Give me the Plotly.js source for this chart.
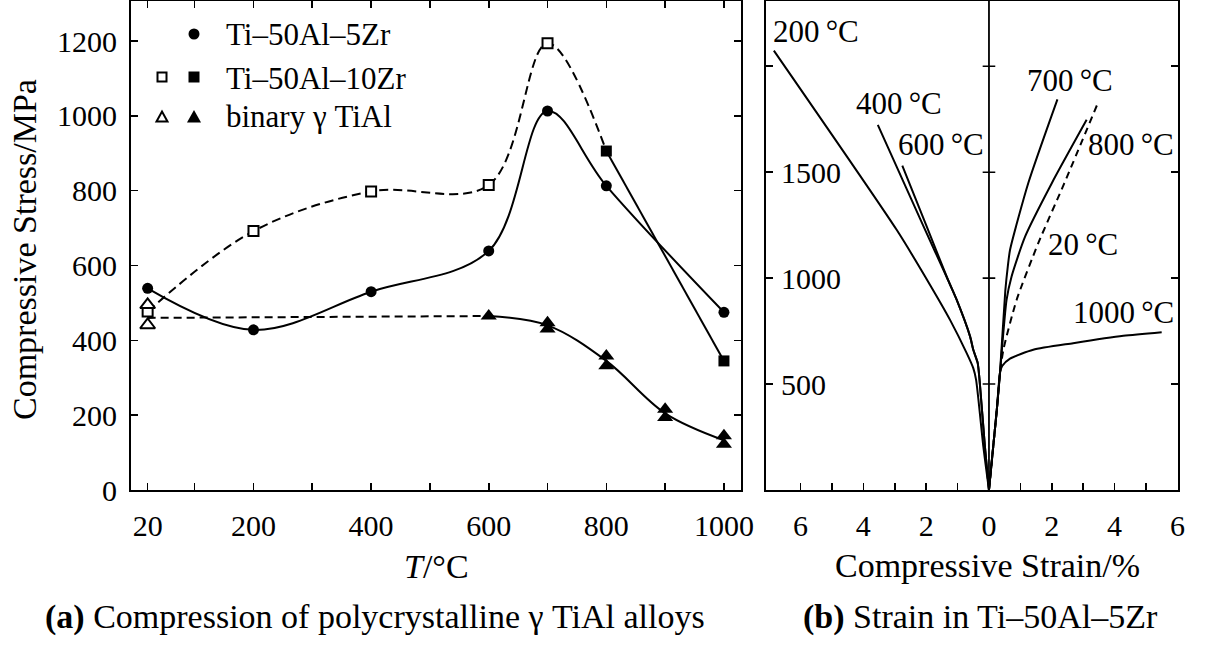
<!DOCTYPE html>
<html>
<head>
<meta charset="utf-8">
<script src="https://cdn.plot.ly/plotly-3.0.1.min.js"></script>
<style>
  html, body { margin: 0; padding: 0; background: #fff; }
  #chart { width: 1205px; height: 646px; }
</style>
</head>
<body>
<div id="chart"></div>
<script>
// ---------- (a) compressive strength vs. temperature ----------
const zr5T = [20, 200, 400, 600, 700, 800, 1000];
const zr5Stress = [539, 428, 530, 639, 1013, 813, 475];

const zr10OpenT = [20, 200, 400, 600, 700];
const zr10OpenStress = [477, 692, 798, 815, 1194];
const zr10FilledT = [800, 1000];
const zr10FilledStress = [906, 345];

const binaryOpenT = [20, 20];
const binaryOpenStress = [495, 441];
const binaryLowTrendT = [20, 600];
const binaryLowTrendStress = [460, 465];
const binaryFilledT = [600, 700, 700, 800, 800, 900, 900, 1000, 1000];
const binaryFilledStress = [465, 447, 430, 358, 332, 216, 194, 145, 122];
const binaryHighTrendT = [600, 700, 800, 900, 1000];
const binaryHighTrendStress = [465, 440, 345, 205, 133];

const tempTicks = [20, 100, 200, 300, 400, 500, 600, 700, 800, 900, 1000];
const tempTickText = ['20', '', '200', '', '400', '', '600', '', '800', '', '1000'];
const stressTicks = [0, 200, 400, 600, 800, 1000, 1200];

// ---------- (b) stress-strain curves of Ti-50Al-5Zr ----------
// left half: strain plotted as negative values, labelled by magnitude
const c200Strain = [0, -0.18, -0.41, -0.5, -0.71, -1.24, -1.88, -2.94, -6.85];
const c200Stress = [0, 206, 520, 575, 646, 803, 969, 1228, 2074];
const c400Strain = [0, -0.13, -0.3, -0.36, -0.5, -0.6, -1.03, -1.3, -2.08, -3.54];
const c400Stress = [0, 206, 520, 600, 662, 724, 898, 990, 1243, 1723];
const c600Strain = [0, -0.13, -0.3, -0.36, -0.5, -0.6, -1.03, -1.3, -2.0, -2.76];
const c600Stress = [0, 206, 520, 600, 662, 724, 898, 990, 1250, 1531];
// right half
const c700Strain = [0, 0.25, 0.35, 0.52, 0.6, 0.67, 1.25, 2.18];
const c700Stress = [0, 379, 552, 940, 1055, 1133, 1448, 1844];
const c800Strain = [0, 0.25, 0.35, 0.56, 0.72, 1.15, 2.0, 3.11];
const c800Stress = [0, 379, 552, 897, 1008, 1196, 1448, 1747];
const c20Strain = [0, 0.25, 0.35, 0.46, 0.88, 1.57, 2.4, 3.45];
const c20Stress = [0, 379, 552, 663, 897, 1165, 1448, 1820];
const c1000Strain = [0, 0.25, 0.35, 0.42, 0.67, 1.41, 2.68, 4.28, 5.5];
const c1000Stress = [0, 379, 552, 585, 620, 662, 693, 728, 745];

const strainTicks = [-6, -5, -4, -3, -2, -1, 0, 1, 2, 3, 4, 5, 6];
const strainTickText = ['6', '', '4', '', '2', '', '0', '', '2', '', '4', '', '6'];
const strainStressTicks = [500, 1000, 1500, 2000];
const strainStressTickText = ['500', '1000', '1500', ''];

const curveLabels = [
  { text: '200\u2009°C', strain: -5.51, stress: 2162 },
  { text: '400\u2009°C', strain: -2.87, stress: 1822 },
  { text: '600\u2009°C', strain: -1.53, stress: 1629 },
  { text: '700\u2009°C', strain: 2.58, stress: 1935 },
  { text: '800\u2009°C', strain: 4.52, stress: 1629 },
  { text: '20\u2009°C', strain: 3.0, stress: 1157 },
  { text: '1000\u2009°C', strain: 4.27, stress: 836 }
];

const legendLabels = ['Ti–50Al–5Zr', 'Ti–50Al–10Zr', 'binary γ TiAl'];

const FONT = 'Liberation Serif, Times New Roman, serif';
const BLACK = '#000';

function curve(x, y, dash, xa, ya) {
  return {
    x: x, y: y, xaxis: xa, yaxis: ya, mode: 'lines', hoverinfo: 'skip',
    line: { color: BLACK, width: 2, dash: dash || 'solid', shape: 'spline', smoothing: 0.6 }
  };
}

const traces = [
  // Ti-50Al-5Zr
  {
    x: zr5T, y: zr5Stress, mode: 'lines+markers', xaxis: 'x', yaxis: 'y',
    line: { color: BLACK, width: 2, shape: 'spline', smoothing: 1 },
    marker: { symbol: 'circle', size: 11, color: BLACK }
  },
  // Ti-50Al-10Zr: dashed through the open squares up to the first filled one
  {
    x: zr10OpenT.concat([zr10FilledT[0]]), y: zr10OpenStress.concat([zr10FilledStress[0]]),
    mode: 'lines', xaxis: 'x', yaxis: 'y',
    line: { color: BLACK, width: 2, dash: '9px,5px', shape: 'spline', smoothing: 1 }
  },
  {
    x: zr10FilledT, y: zr10FilledStress, mode: 'lines+markers', xaxis: 'x', yaxis: 'y',
    line: { color: BLACK, width: 2 },
    marker: { symbol: 'square', size: 11, color: BLACK }
  },
  {
    x: zr10OpenT, y: zr10OpenStress, mode: 'markers', xaxis: 'x', yaxis: 'y',
    marker: { symbol: 'square', size: 10, color: '#fff', line: { color: BLACK, width: 2 } }
  },
  // binary gamma TiAl
  curve(binaryLowTrendT, binaryLowTrendStress, '8px,5px', 'x', 'y'),
  {
    x: binaryHighTrendT, y: binaryHighTrendStress, mode: 'lines', xaxis: 'x', yaxis: 'y',
    line: { color: BLACK, width: 2, shape: 'spline', smoothing: 1 }
  },
  {
    x: binaryOpenT, y: binaryOpenStress, mode: 'markers', xaxis: 'x', yaxis: 'y',
    marker: { symbol: 'triangle-up', size: 13, color: '#fff', line: { color: BLACK, width: 2 } }
  },
  {
    x: binaryFilledT, y: binaryFilledStress, mode: 'markers', xaxis: 'x', yaxis: 'y',
    marker: { symbol: 'triangle-up', size: 14, color: BLACK }
  },
  // stress-strain curves
  curve(c200Strain, c200Stress, null, 'x2', 'y2'),
  curve(c400Strain, c400Stress, null, 'x2', 'y2'),
  curve(c600Strain, c600Stress, null, 'x2', 'y2'),
  curve(c700Strain, c700Stress, null, 'x2', 'y2'),
  curve(c800Strain, c800Stress, null, 'x2', 'y2'),
  curve(c20Strain, c20Stress, '7px,5px', 'x2', 'y2'),
  curve(c1000Strain, c1000Stress, null, 'x2', 'y2'),
  // tick marks across the zero-strain line
  {
    x: strainStressTicks.map(() => 0), y: strainStressTicks, mode: 'markers',
    xaxis: 'x2', yaxis: 'y2', hoverinfo: 'skip',
    marker: { symbol: 'line-ew', size: 9, line: { color: BLACK, width: 1.6 } }
  }
];

const axisCommon = {
  showline: true, linecolor: BLACK, linewidth: 2, mirror: 'ticks',
  ticks: 'inside', ticklen: 7, tickwidth: 1.6, tickcolor: BLACK,
  showgrid: false, zeroline: false, fixedrange: true,
  tickfont: { family: FONT, size: 30, color: BLACK }
};

const px = v => v / 1205;
const py = v => 1 - v / 646;

const annotations = [
  { text: 'Compressive Stress/MPa', x: px(24), y: py(250), textangle: -90 },
  { text: '<i>T</i>/°C', x: px(436), y: py(566) },
  { text: 'Compressive Strain/%', x: px(987), y: py(565) },
  { text: '<b>(a)</b> Compression of polycrystalline γ TiAl alloys', x: px(375), y: py(617) },
  { text: '<b>(b)</b> Strain in Ti–50Al–5Zr', x: px(980), y: py(617) }
].map(a => Object.assign({
  xref: 'paper', yref: 'paper', showarrow: false, xanchor: 'center', yanchor: 'middle',
  font: { family: FONT, size: 34, color: BLACK }
}, a));

legendLabels.forEach((t, i) => {
  annotations.push({
    text: t, xref: 'paper', yref: 'paper', x: px(224), y: py([35, 78, 117][i]),
    xanchor: 'left', yanchor: 'middle', showarrow: false,
    font: { family: FONT, size: 31, color: BLACK }
  });
});

curveLabels.forEach(c => {
  annotations.push({
    text: c.text, xref: 'x2', yref: 'y2', x: c.strain, y: c.stress,
    xanchor: 'center', yanchor: 'middle', showarrow: false,
    font: { family: FONT, size: 31, color: BLACK }
  });
});

// stress labels of panel (b), written just inside its left frame
strainStressTicks.forEach((v, i) => {
  if (!strainStressTickText[i]) return;
  annotations.push({
    text: strainStressTickText[i], xref: 'x2 domain', yref: 'y2', x: 0, y: v,
    xshift: 13, xanchor: 'left', yanchor: 'middle', showarrow: false,
    font: { family: FONT, size: 30, color: BLACK }
  });
});

function pxShape(type, cx, cy, extra) {
  return Object.assign({
    type: type, xref: 'paper', yref: 'paper', xsizemode: 'pixel', ysizemode: 'pixel',
    xanchor: px(cx), yanchor: py(cy)
  }, extra);
}

const shapes = [
  // zero-strain divider
  { type: 'line', xref: 'x2', yref: 'y2 domain', x0: 0, x1: 0, y0: 0, y1: 1,
    line: { color: BLACK, width: 1.8 } },
  // legend symbols
  pxShape('circle', 194, 34, { x0: -5.5, x1: 5.5, y0: -5.5, y1: 5.5, fillcolor: BLACK, line: { width: 0 } }),
  pxShape('rect', 162, 77, { x0: -4.5, x1: 4.5, y0: -4.5, y1: 4.5, fillcolor: '#fff', line: { color: BLACK, width: 2 } }),
  pxShape('rect', 194, 77, { x0: -5.5, x1: 5.5, y0: -5.5, y1: 5.5, fillcolor: BLACK, line: { width: 0 } }),
  pxShape('path', 162, 117, { path: 'M -5.5 -4.5 L 5.5 -4.5 L 0 5.5 Z', fillcolor: '#fff', line: { color: BLACK, width: 2 } }),
  pxShape('path', 194, 117, { path: 'M -7 -5.5 L 7 -5.5 L 0 7 Z', fillcolor: BLACK, line: { width: 0 } })
];

const layout = {
  width: 1205, height: 646,
  margin: { l: 0, r: 0, t: 0, b: 0 },
  paper_bgcolor: '#fff', plot_bgcolor: '#fff',
  showlegend: false,
  font: { family: FONT, size: 30, color: BLACK },
  xaxis: Object.assign({}, axisCommon, {
    domain: [px(131), px(741)], range: [-8.3, 1029], anchor: 'y',
    tickmode: 'array', tickvals: tempTicks, ticktext: tempTickText, ticklabelstandoff: 8
  }),
  yaxis: Object.assign({}, axisCommon, {
    domain: [py(490), py(1)], range: [0, 1307], anchor: 'x',
    tickmode: 'array', tickvals: stressTicks, ticklabelstandoff: 6
  }),
  xaxis2: Object.assign({}, axisCommon, {
    domain: [px(765.7), px(1177.7)], range: [-7.11, 6.01], anchor: 'y2', mirror: true,
    tickmode: 'array', tickvals: strainTicks, ticktext: strainTickText, ticklabelstandoff: 8
  }),
  yaxis2: Object.assign({}, axisCommon, {
    domain: [py(490), py(1)], range: [0, 2308], anchor: 'x2',
    tickmode: 'array', tickvals: strainStressTicks, showticklabels: false
  }),
  annotations: annotations,
  shapes: shapes
};

Plotly.newPlot('chart', traces, layout, { displayModeBar: false, staticPlot: true });
</script>
</body>
</html>
